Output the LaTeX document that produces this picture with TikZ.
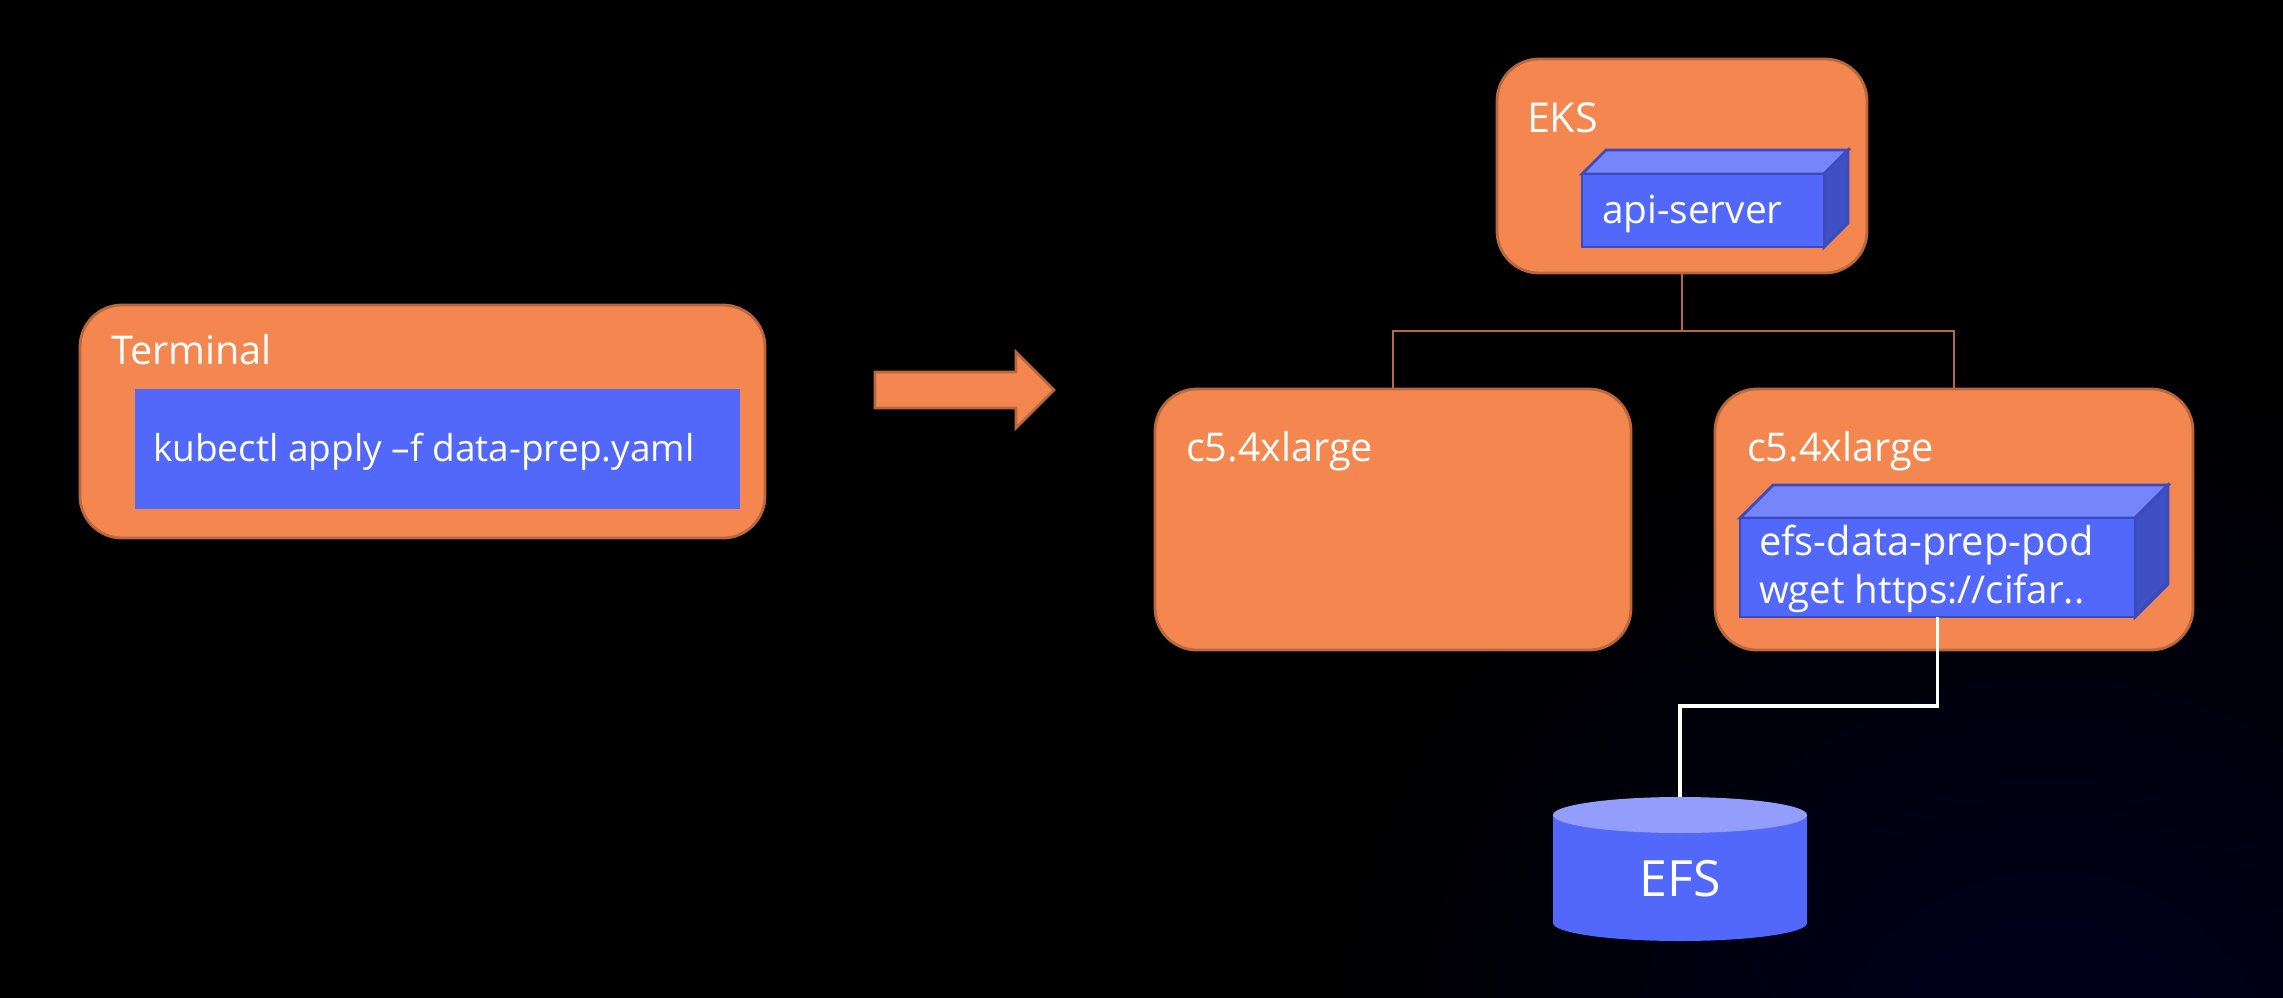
\documentclass[tikz,border=0pt]{standalone}
\usepackage{fontspec}
\setmainfont{Open Sans}
\definecolor{bgnavy}{HTML}{00001F}
\definecolor{orangefill}{HTML}{F4874F}
\definecolor{orangeline}{HTML}{B9673D}
\definecolor{bluefill}{HTML}{5268FB}
\definecolor{blueline}{HTML}{3C4BBC}
\definecolor{bluetop}{HTML}{7585FB}
\definecolor{blueside}{HTML}{3F4FC4}
\definecolor{cyltop}{HTML}{939EFC}
\tikzset{
  x=0.5pt,y=-0.5pt,
  box/.style={draw=orangeline,fill=orangefill,line width=1.4pt,rounded corners=21pt,inner sep=0pt,outer sep=0pt},
  front/.style={draw=blueline,fill=bluefill,line width=1.4pt,inner sep=0pt,outer sep=0pt},
  cubetop/.style={draw=blueline,fill=bluetop,line width=1.4pt,line join=miter},
  cubeside/.style={draw=blueline,fill=blueside,line width=1.4pt,line join=miter},
  plain/.style={fill=bluefill,inner sep=0pt,outer sep=0pt},
  txt/.style={text=white,anchor=base west,inner sep=0pt,outer sep=0pt},
  thinlink/.style={draw=orangeline,line width=0.7pt},
  whitelink/.style={draw=white,line width=1.7pt,line join=miter},
  bigarrow/.style={draw=orangeline,fill=orangefill,line width=1.4pt,line join=miter}
}
\newcommand{\fsz}[1]{\fontsize{#1}{#1}\selectfont}
\begin{document}
\begin{tikzpicture}
\useasboundingbox (0,0) rectangle (2283,997);
\fill[black] (-10,-10) rectangle (2293,1007);
\begin{scope}
\clip (-10,-10) rectangle (2293,1007);
\shade[inner color=bgnavy,outer color=black] (2050,1100) circle[radius=750];
\end{scope}

% Terminal
\node[box,minimum width=342.5pt,minimum height=116.5pt] (term) at (422.5,421.5) {};
\node[plain,minimum width=302.5pt,minimum height=60pt] (cmd) at (437.5,449) {};
\node[txt,font=\fsz{19.8}] (termlbl) at (111,364) {Terminal};
\node[txt,font=\fsz{18.5}] (cmdlbl) at (153,461) {kubectl apply –f data-prep.yaml};

% block arrow
\draw[bigarrow] (875,372) -- (1016,372) -- (1016,352) -- (1054,390) -- (1016,428) -- (1016,408) -- (875,408) -- cycle;

% EKS
\node[box,minimum width=185pt,minimum height=107pt] (eks) at (1682,166) {};
\node[txt,font=\fsz{20.6}] (ekslbl) at (1527,132) {EKS};
\fill[cubetop] (1582,174) -- (1606,150) -- (1848,150) -- (1824,174) -- cycle;
\fill[cubeside] (1824,174) -- (1848,150) -- (1848,223) -- (1824,247) -- cycle;
\node[front,minimum width=121pt,minimum height=36.5pt] (api) at (1703,210.5) {};
\node[txt,font=\fsz{19.4}] (apilbl) at (1602,223) {api-server};

% nodes
\node[box,minimum width=238pt,minimum height=130.5pt] (left) at (1393,519.5) {};
\node[txt,font=\fsz{19.8}] (leftlbl) at (1186,461) {c5.4xlarge};
\node[box,minimum width=239pt,minimum height=130.5pt] (right) at (1954,519.5) {};
\node[txt,font=\fsz{19.8}] (rightlbl) at (1747,461) {c5.4xlarge};

% pod
\fill[cubetop] (1740,518) -- (1773,485) -- (2168,485) -- (2135,518) -- cycle;
\fill[cubeside] (2135,518) -- (2168,485) -- (2168,584) -- (2135,617) -- cycle;
\node[front,minimum width=197.5pt,minimum height=49.5pt] (pod) at (1937.5,567.5) {};
\node[txt,font=\fsz{19.9}] (podlbl) at (1759,555) {efs-data-prep-pod};
\node[txt,font=\fsz{19.2}] (wgetlbl) at (1759,603) {wget https://cifar..};

% EFS cylinder
\node[minimum width=127pt,minimum height=54pt,inner sep=0pt,outer sep=0pt] (efs) at (1680,869) {};
\fill[bluefill] (efs.north west) -- (efs.south west)
  arc[start angle=180,end angle=0,x radius=127,y radius=18] -- (efs.north east) -- cycle;
\fill[cyltop] (efs.north) ellipse[x radius=127,y radius=18];
\coordinate (efstop) at (1680,797);
\node[text=white,anchor=base,inner sep=0pt,font=\fsz{25}] (efslbl) at (1680,896) {EFS};

% connectors
\coordinate (bus) at (1682,331);
\draw[thinlink] (eks.south) -- (bus);
\draw[thinlink] (left.north) |- (bus) -| (right.north);
\draw[whitelink] (pod.south) -- (1937.5,706) -- (1680,706) -- (efstop);
\end{tikzpicture}
\end{document}
